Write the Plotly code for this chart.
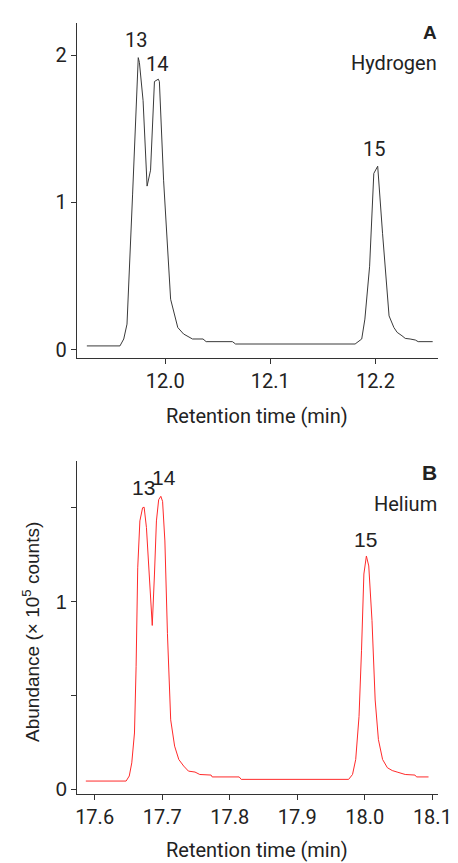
import plotly.graph_objects as go

# Panel A (Hydrogen) - retention time (min) and abundance (x10^5 counts)
h2_time = [11.9255, 11.957, 11.9606, 11.9637, 11.969, 11.9735, 11.9744, 11.9755, 11.979,
           11.9828, 11.9861, 11.9898, 11.9935, 11.9945, 11.9985, 12.0052, 12.0083, 12.012,
           12.0175, 12.022, 12.026, 12.036, 12.039, 12.064, 12.067, 12.1807, 12.187,
           12.19, 12.1945, 12.1985, 12.2022, 12.2068, 12.2099, 12.213, 12.2176, 12.2207,
           12.2253, 12.2284, 12.233, 12.238, 12.2407, 12.2545]
h2_abund = [0.025, 0.025, 0.072, 0.173, 1.05, 1.90, 1.982, 1.95, 1.69,
            1.11, 1.218, 1.82, 1.836, 1.82, 1.15, 0.342, 0.252, 0.15,
            0.106, 0.09, 0.072, 0.072, 0.054, 0.054, 0.038, 0.038, 0.072,
            0.207, 0.566, 1.196, 1.245, 0.79, 0.476, 0.229, 0.15, 0.117,
            0.094, 0.076, 0.072, 0.065, 0.054, 0.054]

# Panel B (Helium)
he_time = [17.587, 17.6466, 17.6513, 17.655, 17.659, 17.6614, 17.6638, 17.667, 17.671,
           17.6733, 17.6767, 17.6805, 17.6853, 17.6886, 17.6915, 17.6948, 17.698, 17.7006,
           17.704, 17.7078, 17.7126, 17.7184, 17.7246, 17.7318, 17.7389, 17.7486, 17.7557,
           17.7724, 17.774, 17.814, 17.817, 17.976, 17.9818, 17.9865, 17.9914, 17.9951,
           17.9986, 18.0023, 18.0058, 18.0106, 18.0153, 18.0201, 18.0263, 18.0334, 18.0406,
           18.0478, 18.055, 18.0598, 18.0742, 18.0766, 18.0943]
he_abund = [0.044, 0.044, 0.071, 0.141, 0.30, 0.653, 1.18, 1.43, 1.50,
            1.503, 1.394, 1.147, 0.873, 1.147, 1.43, 1.543, 1.561, 1.534,
            1.323, 0.829, 0.37, 0.23, 0.159, 0.124, 0.097, 0.092, 0.079,
            0.076, 0.066, 0.066, 0.053, 0.053, 0.079, 0.159, 0.388, 0.741,
            1.147, 1.243, 1.19, 0.90, 0.476, 0.265, 0.159, 0.115, 0.10,
            0.092, 0.085, 0.079, 0.076, 0.066, 0.066]

peak_labels = ["13", "14", "15"]
h2_label_pos = [(11.9725, 2.10), (11.9925, 1.94), (12.1985, 1.36)]
he_label_pos = [(17.672, 1.607), (17.702, 1.66), (18.0005, 1.33)]

h2_xticks = [12.0, 12.1, 12.2]
h2_xticktext = ["12.0", "12.1", "12.2"]
h2_yticks = [0, 1, 2]
he_xticks = [17.6, 17.7, 17.8, 17.9, 18.0, 18.1]
he_xticktext = ["17.6", "17.7", "17.8", "17.9", "18.0", "18.1"]
he_yticks = [0, 1]
he_yminor = [0.5, 1.5]

TXT = "#222222"
FR = "Roboto, 'Noto Sans', sans-serif"
AR = "'Liberation Sans', Arial, sans-serif"

fig = go.Figure()
fig.add_trace(go.Scatter(x=h2_time, y=h2_abund, mode="lines",
                         line=dict(color="#3a3a3a", width=1), xaxis="x", yaxis="y",
                         showlegend=False, hoverinfo="skip"))
fig.add_trace(go.Scatter(x=he_time, y=he_abund, mode="lines",
                         line=dict(color="#ff2a2a", width=1), xaxis="x2", yaxis="y2",
                         showlegend=False, hoverinfo="skip"))

def axis(**kw):
    d = dict(showline=True, linecolor="#333333", linewidth=1.2, ticks="outside",
             ticklen=5, tickcolor="#333333", showgrid=False, zeroline=False,
             tickfont=dict(family=FR, size=20, color=TXT))
    d.update(kw)
    return d

xd = [70 / 458, 443 / 458]
fig.update_layout(
    width=458, height=863, margin=dict(l=0, r=0, t=0, b=0),
    paper_bgcolor="white", plot_bgcolor="white",
    xaxis=axis(domain=xd, range=[11.916, 12.260], tickvals=h2_xticks,
               ticktext=h2_xticktext, anchor="y"),
    yaxis=axis(domain=[1 - 352 / 863, 1 - 15 / 863], range=[-0.054, 2.218],
               tickvals=h2_yticks, anchor="x"),
    xaxis2=axis(domain=xd, range=[17.5737, 18.109], tickvals=he_xticks,
                ticktext=he_xticktext, anchor="y2"),
    yaxis2=axis(domain=[1 - 791.7 / 863, 1 - 456 / 863], range=[-0.026, 1.75],
                tickvals=he_yticks, anchor="x2",
                tickfont=dict(family=AR, size=20, color=TXT),
                minor=dict(tickvals=he_yminor, ticks="outside", ticklen=5,
                           tickcolor="#333333", showgrid=False)),
)

anns = []
for lab, (x, y) in zip(peak_labels, h2_label_pos):
    anns.append(dict(x=x, y=y, xref="x", yref="y", text=lab, showarrow=False,
                     font=dict(family=FR, size=20, color=TXT)))
for lab, (x, y) in zip(peak_labels, he_label_pos):
    anns.append(dict(x=x, y=y, xref="x2", yref="y2", text=lab, showarrow=False,
                     font=dict(family=AR, size=21, color=TXT)))

def px(xp, yp, text, xanchor="center", yanchor="middle", size=16, family=FR, bold=False, angle=0):
    t = f"<b>{text}</b>" if bold else text
    return dict(x=xp / 458, y=1 - yp / 863, xref="paper", yref="paper", text=t,
                showarrow=False, xanchor=xanchor, yanchor=yanchor, textangle=angle,
                font=dict(family=family, size=size, color=TXT))

anns += [
    px(444, 25, "A", xanchor="right", size=19, bold=True, family="'Liberation Sans', Arial"),
    px(444, 55, "Hydrogen", xanchor="right", size=20),
    px(256, 411, "Retention time (min)", size=20),
    px(444, 468, "B", xanchor="right", size=21, bold=True, family="'Liberation Sans', Arial"),
    px(444, 499, "Helium", xanchor="right", size=20),
    px(256, 848, "Retention time (min)", size=20),
    px(22, 628, "Abundance (× 10<sup>5</sup> counts)", size=19, family=AR, angle=-90),
]
fig.update_layout(annotations=anns)

fig.write_html("out.html")
